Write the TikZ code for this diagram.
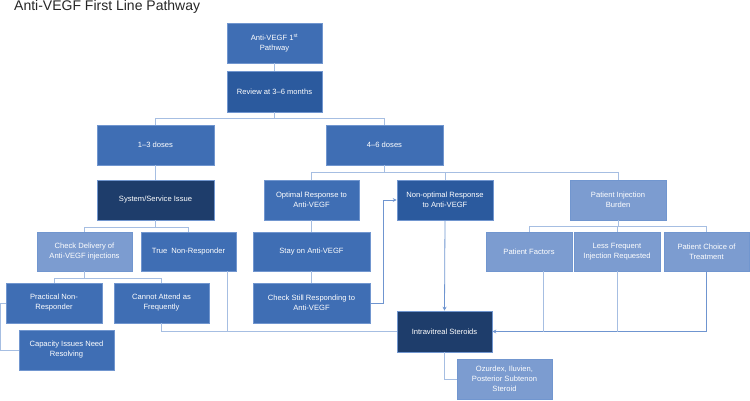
\documentclass[tikz,border=0pt]{standalone}
\usepackage{fontspec}
\setmainfont{Liberation Sans}
\usetikzlibrary{arrows.meta}
\definecolor{cmid}{HTML}{3F6EB4}
\definecolor{cdark}{HTML}{2B5A9E}
\definecolor{cnavy}{HTML}{1E3D6B}
\definecolor{clight}{HTML}{7C9CD0}
\definecolor{cborder}{HTML}{7196CF}
\definecolor{cline}{HTML}{A6BEE2}
\definecolor{carrow}{HTML}{6F95D0}
\tikzset{
  box/.style={draw=cborder, line width=0.6pt, text=white, align=center,
    font=\fontsize{7.6}{10}\selectfont, inner sep=2pt, minimum height=40pt},
  mid/.style={box, fill=cmid},
  dark/.style={box, fill=cdark},
  navy/.style={box, fill=cnavy},
  light/.style={box, fill=clight},
  conn/.style={draw=cline, line width=0.8pt},
  arr/.style={draw=carrow, line width=0.8pt, -{Stealth[length=4pt,width=4pt]}},
}
\begin{document}
\begin{tikzpicture}[x=1pt,y=-1pt]
\useasboundingbox (0,0) rectangle (750,400);
\node[anchor=north west, inner sep=0pt, font=\fontsize{14}{16}\selectfont, text=black!85] (title) at (14,0) {Anti-VEGF First Line Pathway};

% row 1
\node[mid, minimum width=95pt] (p1) at (274.5,43) {Anti-VEGF 1\textsuperscript{st}\\Pathway};
\node[dark, minimum width=95pt, minimum height=41pt] (rev) at (274.5,91.5) {Review at 3–6 months};
% row 2
\node[mid, minimum width=117pt] (d13) at (155.5,145) {1–3 doses};
\node[mid, minimum width=117pt] (d46) at (384.5,145) {4–6 doses};
% row 3
\node[navy, minimum width=117pt] (sys) at (155.5,200) {System/Service Issue};
\node[mid, minimum width=95pt] (opt) at (311.5,200) {Optimal Response to\\Anti-VEGF};
\node[dark, minimum width=96pt] (nonopt) at (445,200) {Non-optimal Response\\to Anti-VEGF};
\node[light, minimum width=96pt] (pib) at (618,200) {Patient Injection\\Burden};
% row 4
\node[light, minimum width=95pt, minimum height=39pt] (chk) at (84.5,251.5) {Check Delivery of\\Anti-VEGF injections};
\node[mid, minimum width=95pt, minimum height=39pt] (tnr) at (188.5,251.5) {True~ Non-Responder};
\node[mid, minimum width=117pt, minimum height=39pt] (stay) at (311.5,251.5) {Stay on Anti-VEGF};
\node[light, minimum width=86pt, minimum height=39pt] (pf) at (529,251.5) {Patient Factors};
\node[light, minimum width=86pt, minimum height=39pt] (lfi) at (617,251.5) {Less Frequent\\Injection Requested};
\node[light, minimum width=85pt, minimum height=39pt] (pct) at (706.5,251.5) {Patient Choice of\\Treatment};
% row 5
\node[mid, minimum width=96pt] (pnr) at (54,303) {Practical Non-\\Responder};
\node[mid, minimum width=95pt] (caf) at (161.5,303) {Cannot Attend as\\Frequently};
\node[mid, minimum width=117pt] (csr) at (311.5,303) {Check Still Responding to\\Anti-VEGF};
\node[mid, minimum width=95pt] (cap) at (66.5,350) {Capacity Issues Need\\Resolving};
\node[navy, minimum width=95pt, minimum height=41pt] (ivs) at (444.5,331.5) {Intravitreal Steroids};
\node[light, minimum width=95pt] (ozu) at (504.5,379) {Ozurdex, Iluvien,\\Posterior Subtenon\\Steroid};

% connectors
\draw[conn] (p1.south) -- (rev.north);
\draw[conn] (rev.south) -- ++(0,6.5) -| (d13.north);
\draw[conn] (rev.south) -- ++(0,6.5) -| (d46.north);
\draw[conn] (d13.south) -- (sys.north);
\draw[conn] (d46.south) -- ++(0,7) -| (opt.north);
\draw[conn] (d46.south) -- ++(0,7) -| (nonopt.north);
\draw[conn] (d46.south) -- ++(0,7) -| (pib.north);
\draw[conn] (sys.south) -- ++(0,7) -| (chk.north);
\draw[conn] (sys.south) -- ++(0,7) -| (tnr.north);
\draw[conn] (opt.south) -- (stay.north);
\draw[conn] (stay.south) -- (csr.north);
\draw[conn] (pib.south) -- ++(0,6) -| (pf.north);
\draw[conn] (pib.south) -- ++(0,6) -| (lfi.north);
\draw[conn] (pib.south) -- ++(0,6) -| (pct.north);
\draw[conn] (chk.south) -- ++(0,7) -| (pnr.north);
\draw[conn] (chk.south) -- ++(0,7) -| (caf.north);
\draw[conn] (pnr.west) -- ++(-5,0) |- (cap.west);
\draw[conn] (caf.south) |- (ivs.west);
\draw[conn] ([xshift=39pt]tnr.south) -- ([xshift=39pt]tnr.south |- ivs.west);
\draw[arr] (nonopt.south) -- (ivs.north);
\draw[arr] (pct.south) |- (ivs.east);
\draw[conn] ([xshift=14pt]pf.south) -- ([xshift=14pt]pf.south |- ivs.east);
\draw[conn] (lfi.south) -- (lfi.south |- ivs.east);
\draw[arr] (csr.east) -- ++(13,0) |- (nonopt.west);
\draw[conn] (ivs.south) |- (ozu.west);
\end{tikzpicture}
\end{document}
